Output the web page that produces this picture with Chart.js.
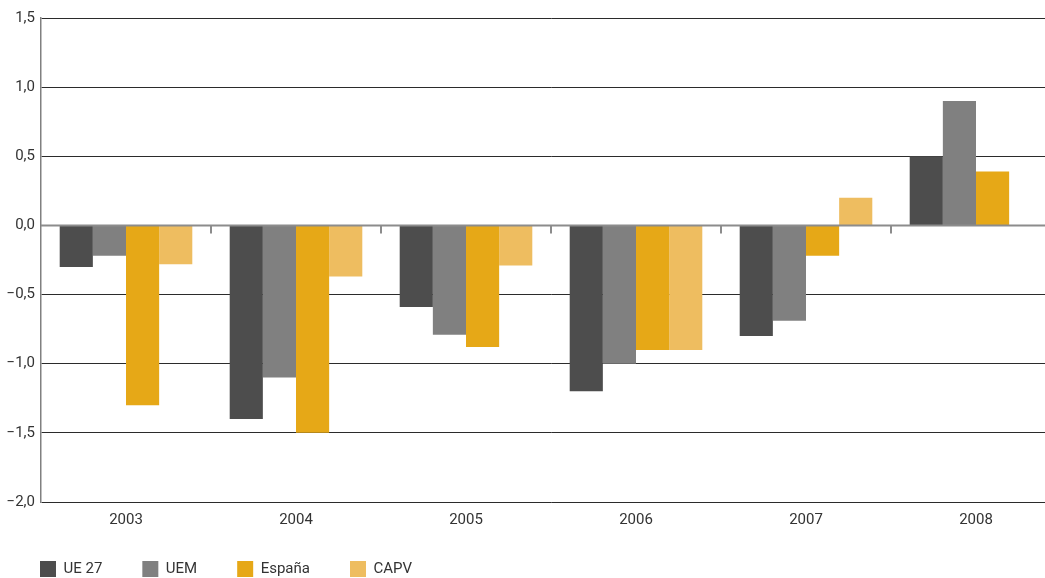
<!DOCTYPE html>
<html>
<head>
<meta charset="utf-8">
<script src="https://cdn.jsdelivr.net/npm/chart.js@4/dist/chart.umd.min.js"></script>
<style>
  html, body { margin: 0; padding: 0; background: #fff; overflow: hidden; }
  #contenedor { position: relative; width: 1070px; height: 598px; }
</style>
</head>
<body>
<div id="contenedor"><canvas id="grafico"></canvas></div>
<script>
// Datos
const anios = ["2003", "2004", "2005", "2006", "2007", "2008"];
const ue27 = [-0.3, -1.4, -0.59, -1.2, -0.8, 0.5];
const uem = [-0.22, -1.1, -0.79, -1.0, -0.69, 0.9];
const espana = [-1.3, -1.5, -0.88, -0.9, -0.22, 0.39];
const capv = [-0.28, -0.37, -0.29, -0.9, 0.2, null];
const series = ["UE 27", "UEM", "España", "CAPV"];
const colores = ["#4d4d4d", "#808080", "#e6a817", "#eebd60"];

const fuente = { family: "Roboto", size: 15 };

// Eje en el cero con marcas entre categorías
const ejeCero = {
    id: "ejeCero",
    afterLayout(chart) {
        // subir la leyenda para que quede pegada a las etiquetas
        chart.legend.top -= 11;
        chart.legend.bottom -= 11;
    },
    afterDatasetsDraw(chart) {
        const { ctx, chartArea, scales: { x, y } } = chart;
        const y0 = y.getPixelForValue(0);
        const ancho = x.width / x.ticks.length;
        ctx.save();
        ctx.strokeStyle = "#8c8c8c";
        ctx.lineWidth = 2;
        ctx.beginPath();
        ctx.moveTo(chartArea.left, y0);
        ctx.lineTo(chartArea.right, y0);
        for (let i = 1; i < x.ticks.length; i++) {
            const px = Math.round(x.getPixelForTick(i) - ancho / 2);
            ctx.moveTo(px, y0);
            ctx.lineTo(px, y0 + 8);
        }
        ctx.stroke();
        ctx.restore();
    }
};

new Chart(document.getElementById("grafico").getContext("2d"), {
    type: "bar",
    data: {
        labels: anios,
        datasets: [ue27, uem, espana, capv].map((datos, i) => ({
            label: series[i],
            data: datos,
            backgroundColor: colores[i],
            borderWidth: 0,
            categoryPercentage: 0.78,
            barPercentage: 1
        }))
    },
    options: {
        responsive: true,
        maintainAspectRatio: false,
        animation: false,
        layout: { padding: { top: 18, right: 9, left: 0, bottom: 0 } },
        plugins: {
            tooltip: { enabled: false },
            legend: {
                position: "bottom",
                align: "start",
                labels: {
                    boxWidth: 16,
                    boxHeight: 16,
                    padding: 40,
                    color: "#333",
                    font: fuente
                }
            }
        },
        scales: {
            x: {
                grid: { display: false, drawTicks: false },
                border: { display: false },
                ticks: { color: "#333", font: fuente, padding: 9 },
                afterFit: escala => { escala.height = 30; }
            },
            y: {
                min: -2,
                max: 1.5,
                ticks: {
                    stepSize: 0.5,
                    color: "#333",
                    font: fuente,
                    padding: 6,
                    callback: v => v.toFixed(1).replace(".", ",").replace("-", "\u2212")
                },
                grid: {
                    drawTicks: false,
                    color: c => c.tick && c.tick.value === 0 ? "rgba(0,0,0,0)" : "#2b2b2b",
                    lineWidth: 1
                },
                border: { color: "#808080", width: 1.5 },
                afterFit: escala => { escala.width = 41; }
            }
        }
    },
    plugins: [ejeCero]
});
</script>
</body>
</html>
